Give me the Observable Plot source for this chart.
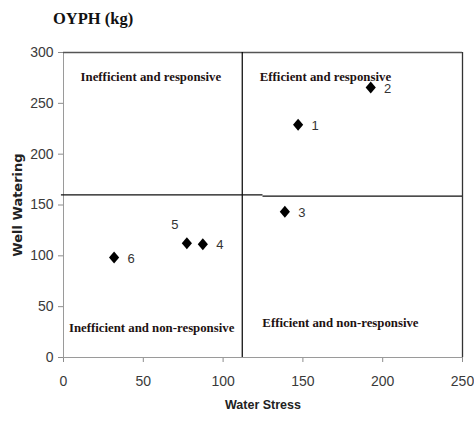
<!DOCTYPE html>
<html><head><meta charset="utf-8">
<script src="https://cdn.jsdelivr.net/npm/d3@7"></script>
<script src="https://cdn.jsdelivr.net/npm/@observablehq/plot@0.6"></script>
<style>
body{margin:0;background:#fff;}
#title{height:40px;position:relative;}
#title span{position:absolute;left:53px;top:9px;font:bold 16.5px "Liberation Serif",serif;color:#111;line-height:20px;}
</style></head><body>
<div id="title"><span>OYPH (kg)</span></div>
<div id="chart"></div>
<script>
// data
const ids = ["1", "2", "3", "4", "5", "6"];
const waterStress = [147, 192.5, 138.7, 87.3, 77.3, 31.7];
const wellWatering = [228.9, 265.6, 143.3, 111.5, 112.5, 98.4];
const xTicks = [0, 50, 100, 150, 200, 250];
const yTicks = [0, 50, 100, 150, 200, 250, 300];
const quadrantLabels = ["Inefficient and responsive", "Efficient and responsive", "Inefficient and non-responsive", "Efficient and non-responsive"];
const quadrantX = [10.7, 123, 3.4, 124.6];
const quadrantY = [276, 276, 29.5, 34.4];
const dividerX = [112];
const dividerY = [160, 158.8];
const dividerYFrom = [-1.3, 125];
const dividerYTo = [125, 250];

const points = ids.map((id, i) => ({id, x: waterStress[i], y: wellWatering[i]}));
const quads = quadrantLabels.map((t, i) => ({t, x: quadrantX[i], y: quadrantY[i]}));
const hDiv = dividerY.map((y, i) => ({y, x1: dividerYFrom[i], x2: dividerYTo[i]}));

const diamond = {draw(ctx, size) {
  const r = Math.sqrt(size / Math.PI), w = r * 0.85;
  ctx.moveTo(0, -r); ctx.lineTo(w, 0); ctx.lineTo(0, r); ctx.lineTo(-w, 0); ctx.closePath();
}};

const chart = Plot.plot({
  width: 474, height: 381,
  marginTop: 12, marginBottom: 64, marginLeft: 63, marginRight: 12,
  style: {fontFamily: "'Liberation Sans', Arial, sans-serif", background: "#fff", overflow: "visible"},
  x: {domain: [0, 250]},
  y: {domain: [0, 300]},
  marks: [
    Plot.axisX({ticks: xTicks, tickSize: 5, tickPadding: 14, fontSize: 14, stroke: "#8c8c8c", fill: "#3a3a3a", label: null}),
    Plot.axisY({ticks: yTicks, tickSize: 5, tickPadding: 5, fontSize: 14, stroke: "#8c8c8c", fill: "#3a3a3a", label: null}),
    Plot.ruleX([0], {stroke: "#9a9a9a"}),
    Plot.ruleY([0], {stroke: "#9a9a9a"}),
    Plot.ruleX([250], {stroke: "#333", strokeWidth: 1.3}),
    Plot.ruleY([300], {stroke: "#555", strokeWidth: 1.3}),
    Plot.ruleX(dividerX, {y1: 0, y2: 300, stroke: "#000", strokeWidth: 1.2}),
    Plot.ruleY(hDiv, {y: "y", x1: "x1", x2: "x2", stroke: "#111", strokeWidth: 1.2}),
    Plot.text(quads, {x: "x", y: "y", text: "t", textAnchor: "start", fontFamily: "'Liberation Serif', serif", fontWeight: "bold", fontSize: 12.8, fill: "#1e1212"}),
    Plot.dot(points, {x: "x", y: "y", symbol: diamond, r: 6, fill: "#000", stroke: "none"}),
    Plot.text(points.filter(d => d.id !== "5"), {x: "x", y: "y", text: "id", dx: 17, dy: 1, fontSize: 13, fill: "#333"}),
    Plot.text(points.filter(d => d.id === "5"), {x: "x", y: "y", text: "id", dx: -12, dy: -18, fontSize: 13, fill: "#333"}),
    Plot.text(["Water Stress"], {frameAnchor: "bottom", textAnchor: "middle", dy: 51, text: d => d, fontWeight: "bold", fontSize: 12.5, fill: "#222"}),
    Plot.text(["Well Watering"], {frameAnchor: "left", textAnchor: "middle", dx: -46, rotate: -90, text: d => d, fontFamily: "'DejaVu Sans', sans-serif", fontWeight: "bold", fontSize: 13, fill: "#222"})
  ]
});
document.getElementById("chart").append(chart);
</script>
</body></html>
